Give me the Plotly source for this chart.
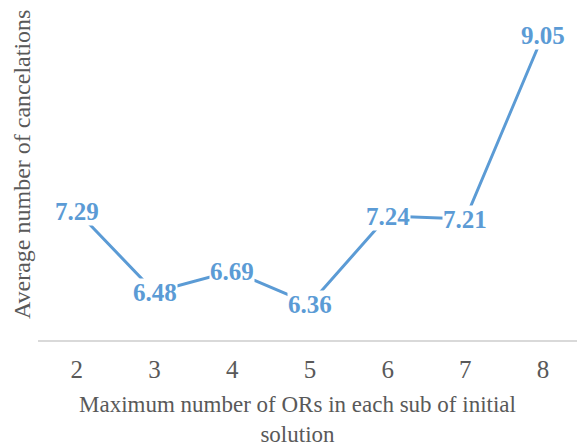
import plotly.graph_objects as go

categories = [2, 3, 4, 5, 6, 7, 8]
values = [7.29, 6.48, 6.69, 6.36, 7.24, 7.21, 9.05]
labels = ["7.29", "6.48", "6.69", "6.36", "7.24", "7.21", "9.05"]

x_title = "Maximum number of ORs in each sub of initial<br>solution"
y_title = "Average number of cancelations"

BLUE = "#5B9BD5"
GRAY = "#595959"
FONT = "Liberation Serif"

fig = go.Figure()
fig.add_trace(go.Scatter(
    x=categories, y=values, mode="lines",
    line=dict(color=BLUE, width=3), hoverinfo="skip", showlegend=False,
))

annotations = []
for c, v, t in zip(categories, values, labels):
    annotations.append(dict(
        x=c, y=v, xref="x", yref="y", text="<b>%s</b>" % t, showarrow=False,
        font=dict(family=FONT, size=25, color=BLUE),
        bgcolor="white", borderpad=0, xanchor="center", yanchor="middle",
    ))

L, T, B = 38, 0, 104
W, H = 577, 444
PW, PH = W - L, H - T - B

annotations.append(dict(
    text=y_title, textangle=-90, showarrow=False,
    xref="paper", yref="paper",
    x=(22 - L) / PW, y=(T + PH - 165) / PH,
    xanchor="center", yanchor="middle",
    font=dict(family=FONT, size=24, color=GRAY),
))
annotations.append(dict(
    text=x_title, showarrow=False,
    xref="paper", yref="paper",
    x=(297 - L) / PW, y=(T + PH - 419) / PH,
    xanchor="center", yanchor="middle",
    font=dict(family=FONT, size=23, color=GRAY),
))

fig.update_layout(
    width=W, height=H,
    margin=dict(l=L, r=0, t=T, b=B),
    plot_bgcolor="white", paper_bgcolor="white",
    annotations=annotations,
    xaxis=dict(
        range=[1.5, 8.437], tickmode="array", tickvals=categories,
        ticktext=[str(c) for c in categories],
        showgrid=False, zeroline=False, showline=True,
        linecolor="#D9D9D9", linewidth=1.5, ticks="",
        tickfont=dict(family=FONT, size=25, color=GRAY),
        ticklabelstandoff=6,
    ),
    yaxis=dict(
        range=[6.0, 9.4], showgrid=False, zeroline=False, showline=False,
        showticklabels=False, ticks="",
    ),
)

fig.write_html(
    "out.html",
    config={"displayModeBar": False},
    post_script="document.body.style.margin='0';document.body.style.overflow='hidden';",
)
